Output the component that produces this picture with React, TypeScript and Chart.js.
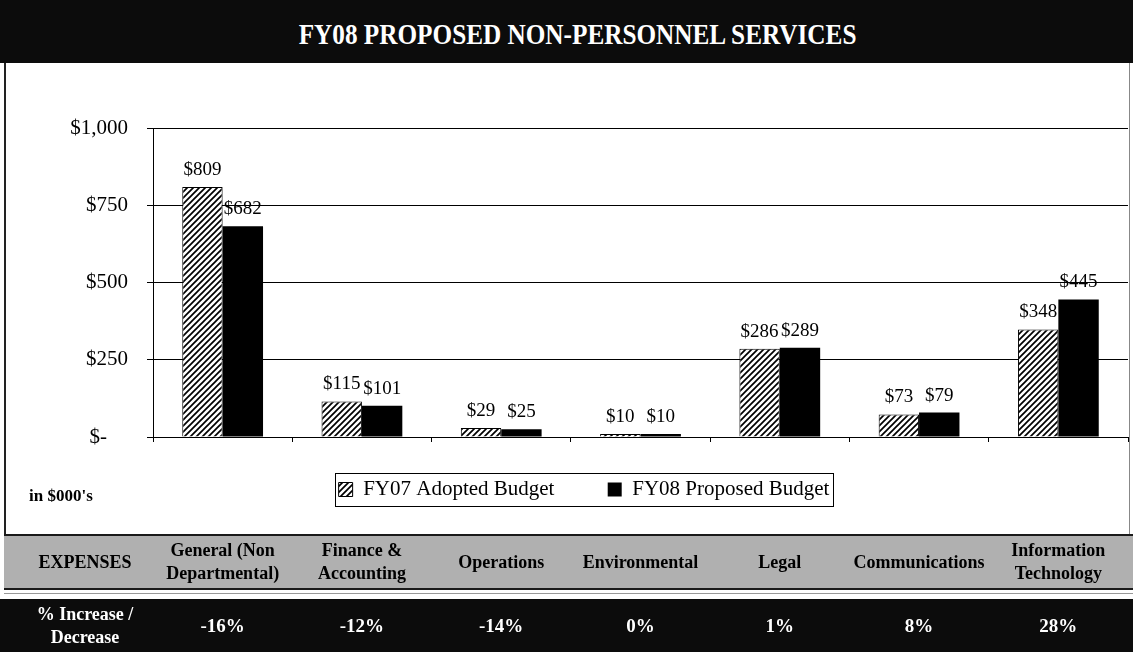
import React, { useEffect, useRef } from "react";
import { Chart, registerables } from "chart.js";

Chart.register(...registerables);

const SERIF = '"Liberation Serif", "Times New Roman", serif';

// ---- data ----
const categories: string[][] = [
  ["General (Non", "Departmental)"],
  ["Finance &", "Accounting"],
  ["Operations"],
  ["Environmental"],
  ["Legal"],
  ["Communications"],
  ["Information", "Technology"],
];
const fy07Adopted = [809, 115, 29, 10, 286, 73, 348];
const fy08Proposed = [682, 101, 25, 10, 289, 79, 445];
const seriesNames = ["FY07 Adopted Budget", "FY08 Proposed Budget"];
const pctChange = ["-16%", "-12%", "-14%", "0%", "1%", "8%", "28%"];
const yTicks = [0, 250, 500, 750, 1000];
const chartTitle = "FY08 PROPOSED NON-PERSONNEL SERVICES";
const unitsNote = "in $000's";
const rowHeader = "EXPENSES";
const pctHeader = ["% Increase /", "Decrease"];

function makeHatch(ctx: CanvasRenderingContext2D) {
  const c = document.createElement("canvas");
  c.width = 6;
  c.height = 6;
  const g = c.getContext("2d")!;
  g.fillStyle = "#fff";
  g.fillRect(0, 0, 6, 6);
  g.strokeStyle = "#000";
  g.lineWidth = 1.7;
  g.beginPath();
  g.moveTo(-1, 7);
  g.lineTo(7, -1);
  g.moveTo(-1, 1);
  g.lineTo(1, -1);
  g.moveTo(5, 7);
  g.lineTo(7, 5);
  g.stroke();
  return ctx.createPattern(c, "repeat")!;
}

const valueLabels = {
  id: "valueLabels",
  afterDatasetsDraw(chart: any) {
    const { ctx } = chart;
    ctx.save();
    ctx.font = `19px ${SERIF}`;
    ctx.fillStyle = "#000";
    ctx.textAlign = "center";
    ctx.textBaseline = "alphabetic";
    chart.data.datasets.forEach((ds: any, di: number) => {
      chart.getDatasetMeta(di).data.forEach((bar: any, i: number) => {
        ctx.fillText("$" + ds.data[i], bar.x, bar.y - 12);
      });
    });
    ctx.restore();
  },
};

const legendFrame = {
  id: "legendFrame",
  afterLayout(chart: any) {
    const l = chart.legend;
    if (l) {
      l.left += 20;
      l.right += 20;
    }
  },
  afterDraw(chart: any) {
    const l = chart.legend;
    if (!l || !l.legendHitBoxes || !l.legendHitBoxes.length) return;
    const hb = l.legendHitBoxes;
    const first = hb[0];
    const last = hb[hb.length - 1];
    const cy = first.top + first.height / 2;
    const x1 = first.left - 4;
    const x2 = last.left + last.width + 3;
    const { ctx } = chart;
    ctx.save();
    ctx.strokeStyle = "#000";
    ctx.lineWidth = 1;
    ctx.strokeRect(Math.round(x1) + 0.5, Math.round(cy - 16.5) + 0.5, Math.round(x2 - x1), 33);
    ctx.restore();
  },
};

export default function App() {
  const ref = useRef<HTMLCanvasElement | null>(null);

  useEffect(() => {
    const canvas = ref.current!;
    const ctx = canvas.getContext("2d")!;
    const hatch = makeHatch(ctx);
    const chart = new Chart(ctx, {
      type: "bar",
      data: {
        labels: categories,
        datasets: [
          {
            label: seriesNames[0],
            data: fy07Adopted,
            backgroundColor: hatch,
            borderColor: "#000",
            borderWidth: 1,
            categoryPercentage: 0.58,
            barPercentage: 1,
          },
          {
            label: seriesNames[1],
            data: fy08Proposed,
            backgroundColor: "#000",
            borderColor: "#000",
            borderWidth: 0,
            categoryPercentage: 0.58,
            barPercentage: 1,
          },
        ],
      },
      options: {
        responsive: false,
        animation: false,
        devicePixelRatio: 1,
        layout: { padding: { top: 65, left: 0, right: 5, bottom: 21 } },
        plugins: {
          tooltip: { enabled: false },
          title: { display: false },
          legend: {
            display: true,
            position: "bottom",
            labels: {
              color: "#000",
              font: { family: SERIF, size: 21 },
              boxWidth: 14,
              boxHeight: 14,
              padding: 6,
              generateLabels(chart: any) {
                const items = (Chart as any).defaults.plugins.legend.labels.generateLabels(chart);
                items.forEach((it: any, i: number) => {
                  if (i < items.length - 1) it.text = it.text + "         ";
                });
                return items;
              },
            },
          },
        },
        scales: {
          x: {
            grid: {
              display: true,
              drawOnChartArea: false,
              drawTicks: true,
              tickLength: 5,
              color: "#000",
              offset: true,
            },
            border: { display: true, color: "#000" },
            ticks: { display: false },
            afterFit: (s: any) => {
              s.height = 36;
            },
          },
          y: {
            min: yTicks[0],
            max: yTicks[yTicks.length - 1],
            afterBuildTicks: (s: any) => {
              s.ticks = yTicks.map((v) => ({ value: v }));
            },
            ticks: {
              padding: 19,
              color: "#000",
              font: { family: SERIF, size: 21 },
              callback: (v: any) =>
                Number(v) === 0 ? "$-    " : "$" + Number(v).toLocaleString("en-US"),
            },
            grid: { color: "#000", lineWidth: 1, tickLength: 6 },
            border: { display: true, color: "#000" },
            afterFit: (s: any) => {
              s.width = 153;
            },
          },
        },
      },
      plugins: [valueLabels, legendFrame],
    } as any);
    return () => chart.destroy();
  }, []);

  const n = categories.length;
  const plotLeft = 153;
  const plotRight = 1128;
  const colW = (plotRight - plotLeft) / n;

  const cell = (cx: number, w: number, top: number, h: number, lines: string[], color: string, size: number, key: string) => (
    <div
      key={key}
      style={{
        position: "absolute",
        left: cx - w / 2,
        width: w,
        top,
        height: h,
        display: "flex",
        flexDirection: "column",
        alignItems: "center",
        justifyContent: "center",
        textAlign: "center",
        fontWeight: "bold",
        fontSize: size,
        lineHeight: "23px",
        color,
        whiteSpace: "nowrap",
      }}
    >
      {lines.map((t, i) => (
        <div key={i}>{t}</div>
      ))}
    </div>
  );

  return (
    <div
      style={{
        position: "absolute",
        left: 0,
        top: 0,
        width: 1133,
        height: 652,
        background: "#fff",
        overflow: "hidden",
        fontFamily: SERIF,
      }}
    >
      <div
        style={{
          position: "absolute",
          left: 0,
          top: 0,
          width: 1133,
          height: 63,
          background: "#0c0c0c",
        }}
      />
      <div
        style={{
          position: "absolute",
          left: 0,
          top: 34,
          width: 1156,
          height: 0,
          display: "flex",
          alignItems: "center",
          justifyContent: "center",
          color: "#fff",
          fontWeight: "bold",
          fontSize: 29,
          whiteSpace: "nowrap",
        }}
      >
        <span style={{ display: "inline-block", transform: "scaleX(0.87)" }}>{chartTitle}</span>
      </div>
      <div style={{ position: "absolute", left: 4, top: 63, width: 2, height: 472, background: "#222" }} />
      <div style={{ position: "absolute", left: 1129, top: 63, width: 1, height: 472, background: "#888" }} />
      <canvas
        ref={ref}
        width={1133}
        height={468}
        style={{ position: "absolute", left: 0, top: 63, width: 1133, height: 468, display: "block" }}
      />
      <div
        style={{
          position: "absolute",
          left: 29,
          top: 486,
          fontWeight: "bold",
          fontSize: 17,
          color: "#000",
          whiteSpace: "nowrap",
        }}
      >
        {unitsNote}
      </div>
      <div
        style={{
          position: "absolute",
          left: 4,
          top: 534,
          width: 1129,
          height: 56,
          background: "#b0b0b0",
          borderTop: "2px solid #1a1a1a",
          borderBottom: "2px solid #1a1a1a",
          boxSizing: "border-box",
        }}
      />
      <div style={{ position: "absolute", left: 4, top: 593, width: 1129, height: 1, background: "#999" }} />
      <div style={{ position: "absolute", left: 0, top: 599, width: 1133, height: 53, background: "#0c0c0c" }} />
      {cell(85, 150, 534, 56, [rowHeader], "#000", 18, "hdr")}
      {cell(85, 150, 599, 53, pctHeader, "#fff", 18, "pcth")}
      {categories.map((c, i) => cell(plotLeft + colW * (i + 0.5), colW, 534, 56, c, "#000", 18, "c" + i))}
      {pctChange.map((p, i) => cell(plotLeft + colW * (i + 0.5), colW, 599, 53, [p], "#fff", 19, "p" + i))}
    </div>
  );
}
